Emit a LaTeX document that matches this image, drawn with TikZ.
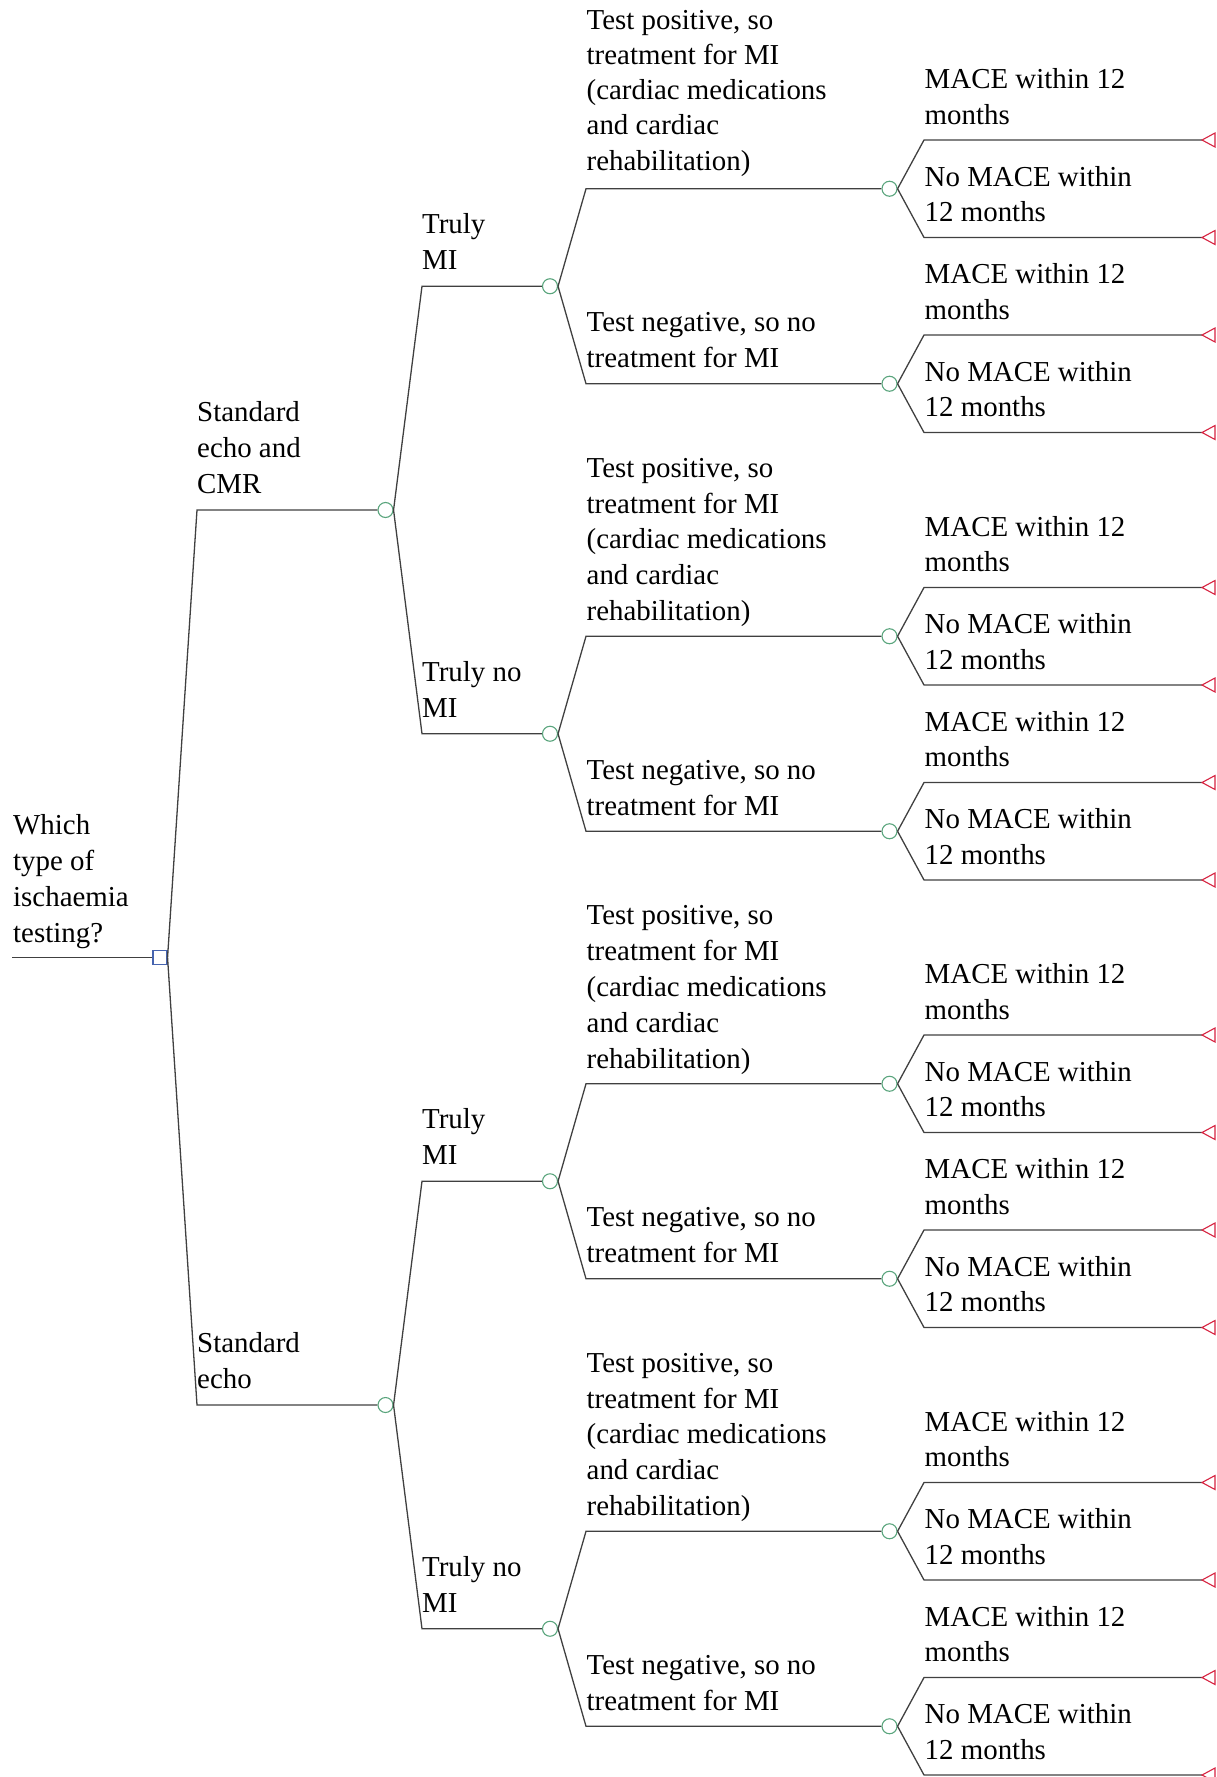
\documentclass[tikz,border=0pt]{standalone}
\usepackage{fontspec}
\setmainfont{Liberation Serif}
\definecolor{chgreen}{RGB}{90,165,125}
\definecolor{decblue}{RGB}{70,100,175}
\definecolor{termred}{RGB}{215,35,65}
\tikzset{
  br/.style={draw=black!75, line width=1.3pt},
  chance/.style={circle, draw=chgreen, line width=1.1pt, fill=white, minimum size=15pt, inner sep=0pt},
  decision/.style={rectangle, draw=decblue, line width=1.1pt, fill=white, minimum size=14pt, inner sep=0pt},
  termtri/.style={draw=termred, line width=1.1pt, fill=white, line join=miter},
  lbl/.style={anchor=south west, inner sep=0pt, align=left, text depth=0pt, font=\fontsize{28.9}{35.8}\selectfont},
}
\begin{document}
\begin{tikzpicture}[x=1pt,y=-1pt]
\useasboundingbox (0,0) rectangle (1217,1777);
% root
\coordinate (rs) at (12,957.5);
\node[decision] (d) at (160,957.5) {};
\draw[br] (rs) -- (d.west);
\node[lbl] (lq) at (13,942.5) {Which\\type of\\ischaemia\\testing?};
% level 1
\foreach \n in {0,1} {
  \pgfmathsetmacro\yy{510+\n*895}
  \coordinate (e1-\n) at (197,\yy);
  \node[chance] (c1-\n) at (385.5,\yy) {};
  \draw[br] (d.east) -- (e1-\n) -- (c1-\n.west);
  \ifnum\n=0
    \node[lbl] (l1-\n) at (197,\yy-16.5) {Standard\\echo and\\CMR};
  \else
    \node[lbl] (l1-\n) at (197,\yy-16.5) {Standard\\echo};
  \fi
}
% level 2
\foreach \n in {0,1} {
  \foreach \i in {0,1} {
    \pgfmathtruncatemacro\m{2*\n+\i}
    \pgfmathsetmacro\yy{286.25+\m*447.5}
    \coordinate (e2-\m) at (422,\yy);
    \node[chance] (c2-\m) at (550,\yy) {};
    \draw[br] (c1-\n.east) -- (e2-\m) -- (c2-\m.west);
    \ifnum\i=0
      \node[lbl] (l2-\m) at (422,\yy-16.5) {Truly\\MI};
    \else
      \node[lbl] (l2-\m) at (422,\yy-16) {Truly no\\MI};
    \fi
  }
}
% level 3
\foreach \m in {0,1,2,3} {
  \foreach \j in {0,1} {
    \pgfmathtruncatemacro\k{2*\m+\j}
    \pgfmathsetmacro\yy{188.75+\m*447.5+\j*195}
    \coordinate (e3-\k) at (586,\yy);
    \node[chance] (c3-\k) at (889.5,\yy) {};
    \draw[br] (c2-\m.east) -- (e3-\k) -- (c3-\k.west);
    \ifnum\j=0
      \ifnum\k=0
        \node[lbl, font=\fontsize{28.9}{35.2}\selectfont] (l3-\k) at (586.5,\yy-18.5) {Test positive, so\\treatment for MI\\(cardiac medications\\and cardiac\\rehabilitation)};
      \else
        \node[lbl] (l3-\k) at (586.5,\yy-15.5) {Test positive, so\\treatment for MI\\(cardiac medications\\and cardiac\\rehabilitation)};
      \fi
    \else
      \node[lbl] (l3-\k) at (586.5,\yy-16) {Test negative, so no\\treatment for MI};
    \fi
  }
}
% level 4 and terminals
\foreach \k in {0,...,7} {
  \foreach \t in {0,1} {
    \pgfmathtruncatemacro\q{2*\k+\t}
    \pgfmathsetmacro\yy{188.75+floor(\k/2)*447.5+mod(\k,2)*195+(2*\t-1)*48.75}
    \coordinate (e4-\q) at (924,\yy);
    \coordinate (t-\q) at (1202,\yy);
    \draw[br] (c3-\k.east) -- (e4-\q) -- (t-\q);
    \draw[termtri] (t-\q) -- ++(13,-7) -- ++(0,14) -- cycle;
    \ifnum\t=0
      \node[lbl] (l4-\q) at (924.5,\yy-15.5) {MACE within 12\\months};
    \else
      \node[lbl] (l4-\q) at (924.5,\yy-15.5) {No MACE within\\12 months};
    \fi
  }
}
\end{tikzpicture}
\end{document}
